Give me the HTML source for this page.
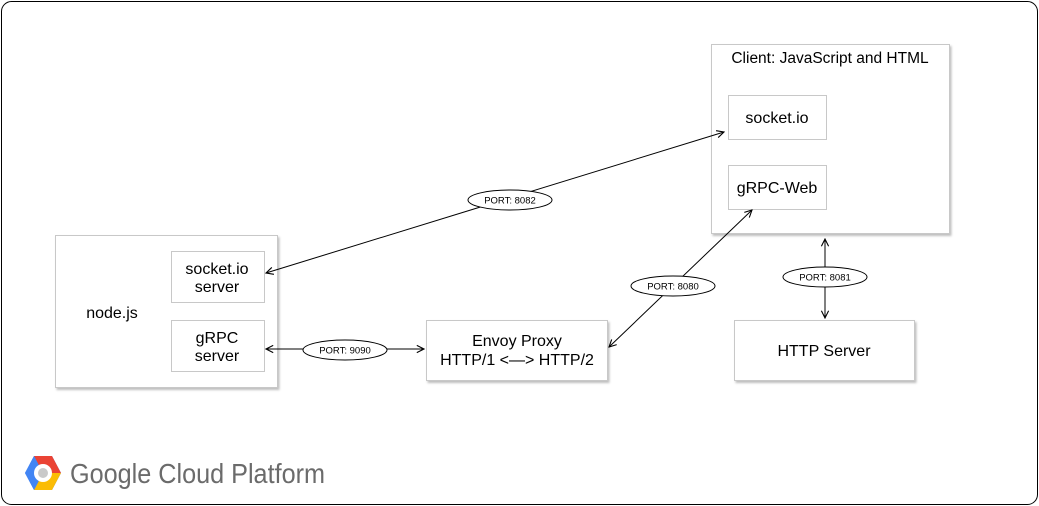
<!DOCTYPE html>
<html><head><meta charset="utf-8"><style>
html,body{margin:0;padding:0;background:#fff;width:1039px;height:506px;overflow:hidden}
svg text{font-family:"Liberation Sans",Arial,sans-serif}
</style></head><body>
<svg width="1039" height="506" viewBox="0 0 1039 506" xmlns="http://www.w3.org/2000/svg">
<defs>
<filter id="sh" x="-10%" y="-10%" width="130%" height="130%"><feDropShadow dx="1.5" dy="2" stdDeviation="1" flood-color="#000" flood-opacity="0.25"/></filter>
<marker id="ar" viewBox="0 0 10 10" refX="9" refY="5" markerWidth="9" markerHeight="9" orient="auto-start-reverse" markerUnits="userSpaceOnUse"><path d="M1,1 L9,5 L1,9" fill="none" stroke="#000" stroke-width="1.2"/></marker>
</defs>
<rect x="1.5" y="1.5" width="1036" height="503" rx="10" fill="#fff" stroke="#000" stroke-width="1"/>
<g fill="#fff" stroke="#c8c8c8" stroke-width="1" filter="url(#sh)">
<rect x="55.5" y="235.5" width="222" height="152"/>
<rect x="171.5" y="251.5" width="93" height="51"/>
<rect x="171.5" y="320.5" width="93" height="51"/>
<rect x="426.5" y="320.5" width="181" height="60"/>
<rect x="711.5" y="44.5" width="238" height="189"/>
<rect x="728.5" y="95.5" width="98" height="44"/>
<rect x="728.5" y="165.5" width="98" height="44"/>
<rect x="734.5" y="320.5" width="180" height="60"/>
</g>
<g font-size="16" fill="#000" text-anchor="middle">
<text x="112" y="318">node.js</text>
<text x="217" y="274">socket.io</text>
<text x="217" y="292">server</text>
<text x="217" y="343">gRPC</text>
<text x="217" y="361">server</text>
<text x="517" y="346">Envoy Proxy</text>
<text x="517" y="365">HTTP/1 &lt;—&gt; HTTP/2</text>
<text x="830" y="63" font-size="15.5">Client: JavaScript and HTML</text>
<text x="777" y="123">socket.io</text>
<text x="777" y="193">gRPC-Web</text>
<text x="824" y="356">HTTP Server</text>
</g>
<g stroke="#000" stroke-width="1" fill="none">
<line x1="266" y1="273" x2="724" y2="132" marker-start="url(#ar)" marker-end="url(#ar)"/>
<line x1="266" y1="349" x2="424" y2="349" marker-start="url(#ar)" marker-end="url(#ar)"/>
<line x1="609" y1="347" x2="752" y2="210" marker-start="url(#ar)" marker-end="url(#ar)"/>
<line x1="825" y1="239" x2="825" y2="318" marker-start="url(#ar)" marker-end="url(#ar)"/>
</g>
<g stroke="#000" stroke-width="1" fill="#fff">
<ellipse cx="510" cy="200" rx="42" ry="10"/>
<ellipse cx="345" cy="350" rx="42" ry="10"/>
<ellipse cx="673" cy="286" rx="42" ry="10"/>
<ellipse cx="825" cy="277" rx="42" ry="10"/>
</g>
<g font-size="9.5" fill="#000" text-anchor="middle">
<text x="510" y="203.5">PORT: 8082</text>
<text x="345" y="353.5">PORT: 9090</text>
<text x="673" y="289.5">PORT: 8080</text>
<text x="825" y="280.5">PORT: 8081</text>
</g>
<g>
<polygon points="34,456 52,456 61,473 52,490 34,490 25,473" fill="#4285f4"/>
<polygon points="34,456 52,456 61,473 43,473" fill="#ea4335"/>
<polygon points="61,473 52,490 34,490 43,473" fill="#fbbc05"/>
<polygon points="25,473 34,456 43,473 34,490" fill="#4285f4"/>
<circle cx="43" cy="473" r="9" fill="#fff"/>
<circle cx="43" cy="473" r="5" fill="#c9c9c9"/>
</g>
<text x="70" y="483" font-size="28" fill="#6b6b6b" textLength="255" lengthAdjust="spacingAndGlyphs">Google Cloud Platform</text>
</svg>
</body></html>
